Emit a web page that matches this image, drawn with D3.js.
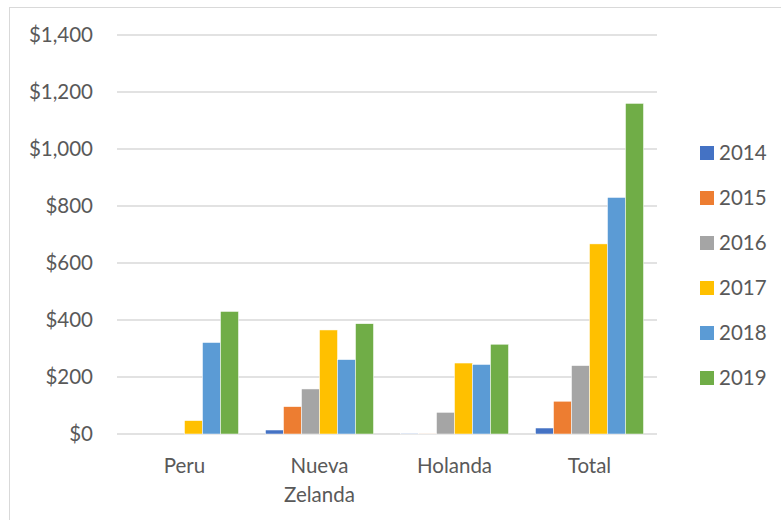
<!DOCTYPE html>
<html>
<head>
<meta charset="utf-8">
<script src="https://cdn.jsdelivr.net/npm/d3@7"></script>
<style>
  body { margin: 0; background: #fff; }
  svg { display: block; font-family: Lato, "Open Sans", sans-serif; }
</style>
</head>
<body>
<svg id="chart" width="781" height="520"></svg>
<script>
var categories = ["Peru", "Nueva Zelanda", "Holanda", "Total"];
var years = ["2014", "2015", "2016", "2017", "2018", "2019"];
var colors = ["#4472c4", "#ed7d31", "#a5a5a5", "#ffc000", "#5b9bd5", "#70ad47"];

// one array per year, values in category order
var v2014 = [0, 14, 2, 21];
var v2015 = [0, 96, 1, 115];
var v2016 = [0, 158, 76, 240];
var v2017 = [47, 365, 249, 667];
var v2018 = [321, 261, 244, 830];
var v2019 = [430, 387, 315, 1160];
var seriesValues = [v2014, v2015, v2016, v2017, v2018, v2019];

var yTicks = [0, 200, 400, 600, 800, 1000, 1200, 1400];

var fontSize = 20.5;
var svg = d3.select("#chart");

// outer frame
svg.append("rect")
  .attr("x", 9.5).attr("y", 7.5)
  .attr("width", 800).attr("height", 600)
  .attr("fill", "none")
  .attr("stroke", "#d9d9d9");

var x0 = d3.scaleBand()
  .domain(categories)
  .range([117, 657])
  .paddingInner(0.2)
  .paddingOuter(0.1);

var y = d3.scaleLinear()
  .domain([0, 1400])
  .range([434, 35]);

// gridlines
svg.append("g")
  .selectAll("line")
  .data(yTicks)
  .enter().append("line")
    .attr("x1", 117).attr("x2", 657)
    .attr("y1", function(d) { return y(d); })
    .attr("y2", function(d) { return y(d); })
    .attr("stroke", "#d9d9d9")
    .attr("stroke-width", 1.3);

// y tick labels
svg.append("g")
  .selectAll("text")
  .data(yTicks)
  .enter().append("text")
    .attr("x", 93)
    .attr("y", function(d) { return y(d); })
    .attr("dy", "0.35em")
    .attr("text-anchor", "end")
    .attr("font-size", fontSize)
    .attr("fill", "#595959")
    .text(function(d) { return "$" + d3.format(",")(d); });

// bars take 6/7.5 of the category step (Excel gap width 150%)
var step = x0.step();
var barW = step / 7.5;
var groupW = barW * 6;
var x1 = d3.scaleBand()
  .domain(years)
  .range([0, groupW]);

var groups = svg.append("g")
  .selectAll("g")
  .data(categories)
  .enter().append("g")
    .attr("transform", function(d) {
      return "translate(" + (x0(d) + x0.bandwidth() / 2 - groupW / 2) + ",0)";
    });

groups.selectAll("rect")
  .data(function(c, ci) {
    return years.map(function(yr, i) {
      return { year: yr, value: seriesValues[i][ci], color: colors[i] };
    });
  })
  .enter().append("rect")
    .attr("x", function(d) { return x1(d.year); })
    .attr("width", x1.bandwidth())
    .attr("y", function(d) { return y(d.value); })
    .attr("height", function(d) { return y(0) - y(d.value); })
    .attr("fill", function(d) { return d.color; })
    .attr("stroke", "#fff")
    .attr("stroke-width", 0.5);

// category labels, wrapped on spaces
var catLabels = svg.append("g")
  .selectAll("text")
  .data(categories)
  .enter().append("text")
    .attr("text-anchor", "middle")
    .attr("font-size", fontSize)
    .attr("fill", "#595959")
    .attr("x", function(d) { return x0(d) + x0.bandwidth() / 2; })
    .attr("y", 473);

catLabels.each(function(d) {
  var t = d3.select(this);
  d.split(" ").forEach(function(w, i) {
    t.append("tspan")
      .attr("x", x0(d) + x0.bandwidth() / 2)
      .attr("dy", i === 0 ? 0 : 29)
      .text(w);
  });
});

// legend
var legend = svg.append("g")
  .selectAll("g")
  .data(years)
  .enter().append("g")
    .attr("transform", function(d, i) { return "translate(700," + (153 + i * 45) + ")"; });

legend.append("rect")
  .attr("x", 0).attr("y", -7)
  .attr("width", 14).attr("height", 14)
  .attr("fill", function(d, i) { return colors[i]; });

legend.append("text")
  .attr("x", 19)
  .attr("dy", "0.36em")
  .attr("font-size", fontSize)
  .attr("fill", "#595959")
  .text(function(d) { return d; });
</script>
</body>
</html>
